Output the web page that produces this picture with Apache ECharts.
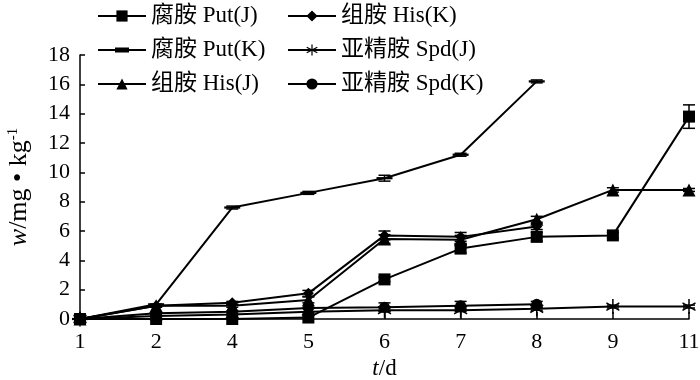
<!DOCTYPE html>
<html><head><meta charset="utf-8">
<script src="https://cdn.jsdelivr.net/npm/echarts@6/dist/echarts.min.js"></script>
<style>html,body{margin:0;padding:0;background:#fff}#c{width:700px;height:380px}</style>
</head><body><div id="c"></div>
<script>
var categories = ['1','2','4','5','6','7','8','9','11'];
var yTicks = [0,2,4,6,8,10,12,14,16,18];
var putJ = [0,0,0,0.1,2.7,4.8,5.6,5.7,13.8];
var putK = [0,1.0,7.6,8.6,9.6,11.2,16.2,null,null];
var hisJ = [0,0.9,0.9,1.3,5.45,5.4,6.8,8.8,8.8];
var hisK = [0,0.9,1.1,1.75,5.7,5.6,6.3,null,null];
var spdJ = [0,0.2,0.3,0.5,0.6,0.6,0.7,0.85,0.85];
var spdK = [0,0.4,0.5,0.75,0.8,0.9,1.0,null,null];
var errPutJ = [0,0,0,0,0.15,0.3,0.3,0.2,0.8];
var errPutK = [0,0,0.1,0.1,0.2,0.1,0.1,0,0];
var errHisJ = [0,0.1,0.1,0.2,0.3,0.3,0.2,0.15,0.1];
var errHisK = [0,0.1,0.1,0.2,0.3,0.3,0.2,0,0];
var errSpdJ = [0,0,0,0,0.1,0.1,0.1,0.1,0.1];
var errSpdK = [0,0,0,0,0.3,0.3,0.2,0,0];
var names = ['腐胺 Put(J)','腐胺 Put(K)','组胺 His(J)','组胺 His(K)','亚精胺 Spd(J)','亚精胺 Spd(K)'];

var FONT = "'Liberation Serif', 'Noto Sans CJK SC', serif";
var starPath = 'path://M-1,-10 L1,-10 L1,10 L-1,10 Z M8.16,5.87 L9.16,4.13 L-8.16,-5.87 L-9.16,-4.13 Z M9.16,-4.13 L8.16,-5.87 L-9.16,4.13 L-8.16,5.87 Z';
var dashPath = 'path://M0,0 L16,0 L16,6 L0,6 Z';
var dashLegendPath = 'path://M0,1.5 L48,1.5 L48,3.5 L0,3.5 Z M17,0 L31,0 L31,5 L17,5 Z';

var vals = [putJ, putK, hisJ, hisK, spdJ, spdK];
var errs = [errPutJ, errPutK, errHisJ, errHisK, errSpdJ, errSpdK];
var symbols = ['rect',dashPath,'triangle','diamond',starPath,'circle'];
var sizes = [12,[16,6],13,11,15,11];

var series = [];
for (var s = 0; s < 6; s++) {
  series.push({
    name: names[s], type: 'line', data: vals[s],
    symbol: symbols[s], symbolSize: sizes[s], symbolKeepAspect: true,
    lineStyle: {color: '#000', width: 2},
    itemStyle: {color: '#000'},
    connectNulls: false, z: 3
  });
}
var errData = [];
for (var s2 = 0; s2 < 6; s2++) {
  for (var i = 0; i < categories.length; i++) {
    var v = vals[s2][i], e = errs[s2][i];
    if (v != null && e > 0) errData.push([i, v - e, v + e]);
  }
}
series.push({
  type: 'custom', data: errData, z: 4, silent: true,
  renderItem: function (params, api) {
    var x = api.value(0);
    var lo = api.coord([x, api.value(1)]);
    var hi = api.coord([x, api.value(2)]);
    var w = 6;
    var st = {stroke: '#000', lineWidth: 1.5};
    return {type: 'group', children: [
      {type: 'line', shape: {x1: lo[0], y1: lo[1], x2: hi[0], y2: hi[1]}, style: st},
      {type: 'line', shape: {x1: hi[0]-w, y1: hi[1], x2: hi[0]+w, y2: hi[1]}, style: st},
      {type: 'line', shape: {x1: lo[0]-w, y1: lo[1], x2: lo[0]+w, y2: lo[1]}, style: st}
    ]};
  }
});

var legendCommon = {
  orient: 'vertical', itemWidth: 48, itemHeight: 14, itemGap: 10, padding: 0,
  symbolKeepAspect: true,
  textStyle: {fontFamily: FONT, fontSize: 23, lineHeight: 24, color: '#000', padding: [0,0,0,0]}
};
var chart = echarts.init(document.getElementById('c'));
chart.setOption({
  animation: false,
  backgroundColor: '#fff',
  legend: [
    Object.assign({}, legendCommon, {left: 97, top: 4, data: [names[0], {name: names[1], icon: dashLegendPath}, names[2]]}),
    Object.assign({}, legendCommon, {left: 287, top: 4, data: [names[3], names[4], names[5]]})
  ],
  grid: {left: 80, right: 11, top: 55, bottom: 61, containLabel: false, outerBoundsMode: 'none'},
  xAxis: {
    type: 'category', data: categories, boundaryGap: false,
    axisLine: {lineStyle: {color: '#000', width: 1.5}},
    axisTick: {inside: true, length: 7, lineStyle: {color: '#000', width: 1.5}, alignWithLabel: true},
    axisLabel: {fontFamily: FONT, fontSize: 22, color: '#000', margin: 12},
    name: '{i|t}/d', nameLocation: 'middle', nameGap: 37,
    nameTextStyle: {fontFamily: FONT, fontSize: 23, color: '#000',
      rich: {i: {fontFamily: FONT, fontSize: 23, fontStyle: 'italic', color: '#000'}}}
  },
  yAxis: {
    type: 'value', min: yTicks[0], max: yTicks[yTicks.length-1], interval: 2,
    splitLine: {show: false},
    axisLine: {show: true, lineStyle: {color: '#000', width: 1.5}},
    axisTick: {show: true, inside: true, length: 5, lineStyle: {color: '#000', width: 1.5}},
    axisLabel: {fontFamily: FONT, fontSize: 22, color: '#000', margin: 10},
    name: '{i|w}/mg • kg{s|-1}', nameLocation: 'middle', nameGap: 48, nameRotate: 90,
    nameTextStyle: {fontFamily: FONT, fontSize: 26, color: '#000',
      rich: {i: {fontFamily: FONT, fontSize: 26, fontStyle: 'italic', color: '#000'},
             s: {fontFamily: FONT, fontSize: 15, color: '#000', verticalAlign: 'top', padding: [0,0,10,0]}}}
  },
  series: series
});
</script></body></html>
